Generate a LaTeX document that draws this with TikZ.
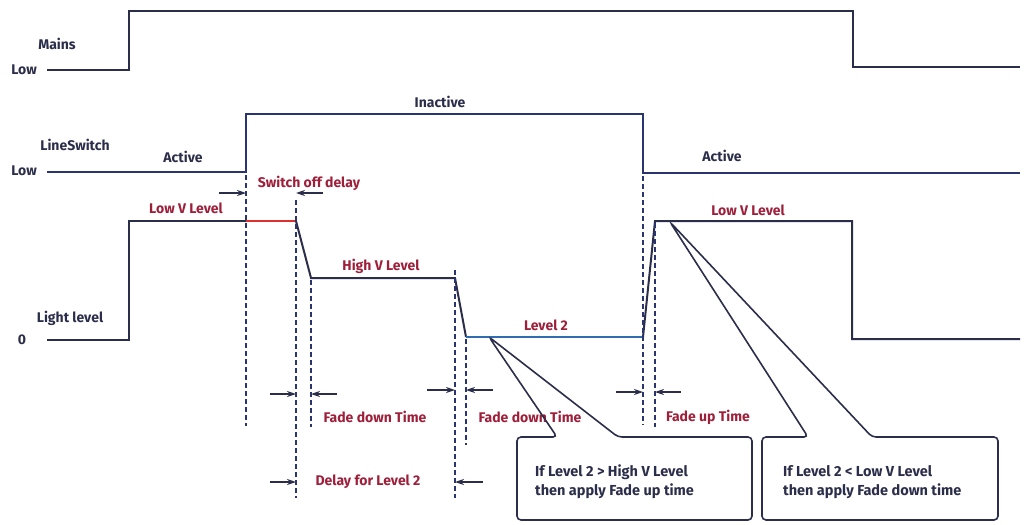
\documentclass[tikz,border=0pt]{standalone}
\usepackage{fontspec}
\setmainfont{Fira Sans}
\usetikzlibrary{positioning,arrows.meta}

\definecolor{navy}{HTML}{2B2E4A}
\definecolor{lsblue}{HTML}{2A3570}
\definecolor{darkred}{HTML}{9E1F3A}
\definecolor{lvlblue}{HTML}{2F6DB0}
\definecolor{hotred}{HTML}{E0302E}

\begin{document}
\begin{tikzpicture}[x=1pt,y=-1pt,
    sig/.style={draw=navy,line width=2pt},
    guide/.style={draw=lsblue,line width=1.4pt,dash pattern=on 5pt off 3pt},
    dimarr/.style={draw=navy,line width=1.4pt,-{Stealth[length=9pt,width=6pt]}},
    lbl/.style={text=navy,font=\fontsize{14}{16}\selectfont\bfseries,inner sep=1pt},
    lvl/.style={text=darkred,font=\fontsize{14}{16}\selectfont\bfseries,inner sep=1pt},
    callout/.style={draw=navy,line width=1.6pt,rounded corners=4pt},
    boxtext/.style={text=navy,font=\fontsize{14.5}{19}\selectfont\bfseries,align=left,anchor=west,inner sep=0pt}]
    \useasboundingbox (0,0) rectangle (1026,525);

    % signal names
    \node[lbl] (mains) at (57,44) {Mains};
    \node[lbl] (mainslow) at (24,70) {Low};
    \node[lbl] (lsw) at (75,145) {LineSwitch};
    \node[lbl] (lswlow) at (24,171) {Low};
    \node[lbl] (light) at (70,318) {Light level};
    \node[lbl] (zero) at (22,340) {0};

    % mains
    \draw[sig] (47,70) -- (129,70) -- (129,11) -- (853,11) -- (853,67) -- (1020,67);

    % line switch
    \draw[sig,draw=lsblue] (47,172) -- (246,172) -- (246,114) -- (643,114) -- (643,173) -- (1020,173);
    \node[lbl] (act1) at (183,157) {Active};
    \node[lbl] (inact) at (440,102) {Inactive};
    \node[lbl] (act2) at (722,156) {Active};

    % light level
    \coordinate (lowA) at (246,221);
    \coordinate (lowB) at (296,221);
    \coordinate (highA) at (311,278);
    \coordinate (highB) at (455,278);
    \coordinate (lv2A) at (466,337);
    \coordinate (lv2B) at (643,337);
    \coordinate (lowC) at (655,221);
    \draw[sig] (47,340) -- (129,340) -- (129,221) -- (lowA);
    \draw[draw=hotred,line width=2pt] (lowA) -- (lowB);
    \draw[sig] (lowB) -- (highA) -- (highB) -- (lv2A);
    \draw[draw=lvlblue,line width=2pt] (lv2A) -- (lv2B);
    \draw[sig] (lv2B) -- (lowC) -- (852,221) -- (852,339) -- (1020,339);

    \node[lvl] (lowlvl1) at (186,208) {Low V Level};
    \node[lvl] (highlvl) at (381,266) {High V Level};
    \node[lvl] (lvl2) at (546,325) {Level 2};
    \node[lvl] (lowlvl2) at (748,210) {Low V Level};

    % guide lines
    \draw[guide] (246,175) -- (246,426);
    \draw[guide] (296,200) -- (296,498);
    \draw[guide] (311,280) -- (311,427);
    \draw[guide] (455,270) -- (455,498);
    \draw[guide] (466,339) -- (466,445);
    \draw[guide] (643,176) -- (643,425);
    \draw[guide] (655,223) -- (655,427);

    % timing arrows
    \coordinate (sodL) at (219,193);
    \coordinate (sodR) at (323,193);
    \draw[dimarr] (sodL) -- (246,193);
    \draw[dimarr] (sodR) -- (296,193);
    \node[lvl] (sod) at (309,183) {Switch off delay};

    \coordinate (fd1L) at (270,394);
    \coordinate (fd1R) at (337,394);
    \draw[dimarr] (fd1L) -- (296,394);
    \draw[dimarr] (fd1R) -- (311,394);
    \node[lvl] (fd1) at (375,417) {Fade down Time};

    \coordinate (fd2L) at (427,390);
    \coordinate (fd2R) at (493,390);
    \draw[dimarr] (fd2L) -- (455,390);
    \draw[dimarr] (fd2R) -- (466,390);
    \node[lvl] (fd2) at (530,417) {Fade down Time};

    \coordinate (fuL) at (616,392);
    \coordinate (fuR) at (681,392);
    \draw[dimarr] (fuL) -- (643,392);
    \draw[dimarr] (fuR) -- (655,392);
    \node[lvl] (fu) at (708,417) {Fade up Time};

    \coordinate (dlL) at (270,482);
    \coordinate (dlR) at (483,482);
    \draw[dimarr] (dlL) -- (296,482);
    \draw[dimarr] (dlR) -- (455,482);
    \node[lvl] (dl) at (368,482) {Delay for Level 2};

    % callouts
    \draw[callout] (557,437) -- (489,337) -- (618,437) -- (752,437) -- (752,520) -- (517,520) -- (517,437) -- cycle;
    \node[boxtext] (note1) at (535,482) {If Level 2 > High V Level\\then apply Fade up time};

    \draw[callout] (808,437) -- (670,222) -- (872,437) -- (998,437) -- (998,520) -- (762,520) -- (762,437) -- cycle;
    \node[boxtext] (note2) at (783,482) {If Level 2 < Low V Level\\then apply Fade down time};
\end{tikzpicture}
\end{document}
